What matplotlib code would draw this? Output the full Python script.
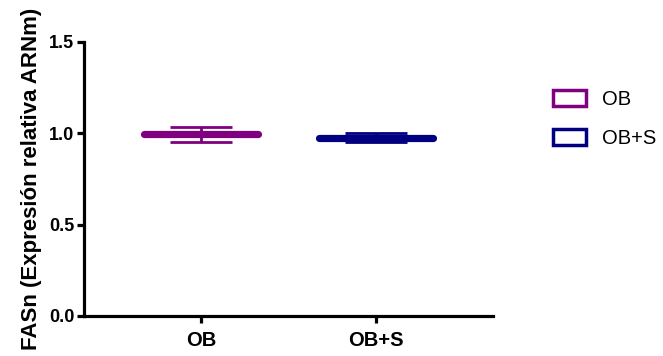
import matplotlib
matplotlib.use("Agg")
import matplotlib.pyplot as plt
from matplotlib.patches import Patch

plt.rcParams["font.family"] = ["Liberation Sans", "DejaVu Sans"]

CATEGORIES = ["OB", "OB+S"]
MEANS = [0.994, 0.977]
ERRORS = [0.040, 0.027]
COLORS = ["#800080", "#000080"]

Y_TICKS = [0.0, 0.5, 1.0, 1.5]
Y_TICK_LABELS = ["0.0", "0.5", "1.0", "1.5"]

MEAN_HALF_WIDTH = 0.325
CAP_SIZE_PT = 22.5
AXIS_LW = 2.3

fig = plt.figure(figsize=(6.63, 3.56), dpi=100)
ax = fig.add_axes([84 / 663, 1 - 316 / 356, 409 / 663, 274 / 356])

for i, (mean, err, color) in enumerate(zip(MEANS, ERRORS, COLORS)):
    ax.errorbar(
        [i], [mean], yerr=[err],
        fmt="none", ecolor=color, elinewidth=2.0,
        capsize=CAP_SIZE_PT, capthick=2.0, zorder=3,
    )
    ax.hlines(
        mean, i - MEAN_HALF_WIDTH, i + MEAN_HALF_WIDTH,
        colors=color, linewidth=5.2, capstyle="round", zorder=4,
    )

ax.set_xlim(-0.669, 1.669)
ax.set_ylim(0.0, 1.5)
ax.set_xticks(range(len(CATEGORIES)))
ax.set_xticklabels(CATEGORIES, fontsize=14.5, fontweight="bold")
ax.set_yticks(Y_TICKS)
ax.set_yticklabels(Y_TICK_LABELS, fontsize=13, fontweight="bold")
ax.tick_params(axis="both", direction="out", length=5, width=AXIS_LW, pad=2)
ax.tick_params(axis="x", pad=6)

for side in ("top", "right"):
    ax.spines[side].set_visible(False)
for side in ("left", "bottom"):
    ax.spines[side].set_linewidth(AXIS_LW)
    ax.spines[side].set_capstyle("projecting")

ax.set_ylabel("FASn (Expresión relativa ARNm)", fontsize=16, fontweight="bold", labelpad=5)

handles = [Patch(facecolor="white", edgecolor=c, linewidth=2.5) for c in COLORS]
fig.legend(
    handles, CATEGORIES,
    loc="upper left", bbox_to_anchor=(553 / 663, 1 - 90 / 356),
    frameon=False, fontsize=14.5, borderpad=0, borderaxespad=0,
    handlelength=1.65, handleheight=0.8, handletextpad=0.8, labelspacing=1.0,
)

fig.savefig("out.png", dpi=100)
